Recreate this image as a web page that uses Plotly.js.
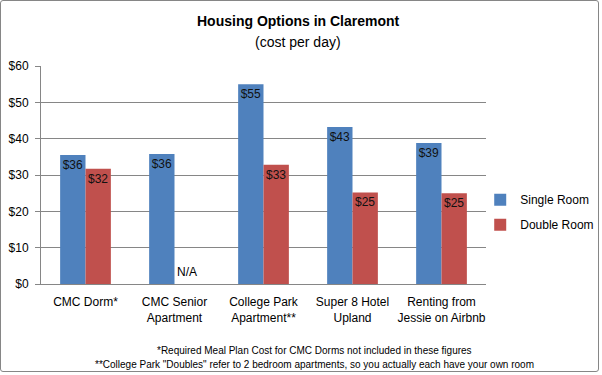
<!DOCTYPE html>
<html><head><meta charset="utf-8">
<script src="https://cdn.plot.ly/plotly-3.0.1.min.js"></script>
<style>
html,body{margin:0;padding:0;background:#fff;}
#wrap{position:absolute;left:0;top:0;width:597px;height:370px;border:1px solid #868686;border-radius:3px;overflow:hidden;}
#chart{width:602px;height:375px;margin:-1px 0 0 -1px;}
</style></head>
<body><div id="wrap"><div id="chart"></div></div>
<script>
const categories = ["CMC Dorm*", "CMC Senior<br>Apartment", "College Park<br>Apartment**", "Super 8 Hotel<br>Upland", "Renting from<br>Jessie on Airbnb"];
const singleRoom = [35.5, 35.8, 55.0, 43.2, 38.8];
const doubleRoom = [31.7, null, 32.8, 25.2, 25.0];
const missingLabel = "N/A";
const footnotes = ["*Required Meal Plan Cost for CMC Dorms not included in these figures",
  "**College Park \"Doubles\" refer to 2 bedroom apartments, so you actually each have your own room"];

const F = "Arial, Liberation Sans, sans-serif";
const common = {type:'bar', x:categories, texttemplate:'$%{y:.0f}', textposition:'inside', textangle:0,
  insidetextanchor:'end', constraintext:'none', textfont:{family:F,size:12,color:'#111'}, hoverinfo:'none'};
const data = [
  Object.assign({}, common, {name:'Single Room', legendgroup:'a', y:singleRoom, marker:{color:'#4F81BD'}}),
  Object.assign({}, common, {name:'Double Room', legendgroup:'b', y:doubleRoom, marker:{color:'#C0504D'}})
];
const missingIdx = doubleRoom.findIndex(v => v === null);
const layout = {
  width:602, height:375, margin:{l:41,r:116,t:66,b:91,autoexpand:false},
  paper_bgcolor:'rgba(0,0,0,0)', plot_bgcolor:'#fff',
  font:{family:F,size:12,color:'#000'},
  barmode:'group', bargap:0.43, bargroupgap:0,
  showlegend:true,
  legend:{x:0.987,y:0.329,xanchor:'left',yanchor:'middle',font:{family:F,size:12,color:'#000'},
    traceorder:'grouped', tracegroupgap:6},
  xaxis:{type:'category', showgrid:false, showline:true, linecolor:'#868686', linewidth:1,
    ticks:'', ticklabelstandoff:7, tickfont:{family:F,size:12,color:'#000'}, fixedrange:true},
  yaxis:{range:[0,60], dtick:10, tickprefix:'$', showgrid:true, gridcolor:'#868686', gridwidth:1,
    showline:true, linecolor:'#868686', ticks:'outside', ticklen:5, tickcolor:'#868686', ticklabelstandoff:4,
    tickfont:{family:F,size:12,color:'#000'}, zeroline:false, fixedrange:true},
  annotations:[
    {text:'<b>Housing Options in Claremont</b>', xref:'paper', yref:'paper', x:0.578, y:1.206,
      xanchor:'center', yanchor:'middle', showarrow:false, font:{family:F,size:14,color:'#000'}},
    {text:'(cost per day)', xref:'paper', yref:'paper', x:0.578, y:1.112,
      xanchor:'center', yanchor:'middle', showarrow:false, font:{family:F,size:14,color:'#000'}},
    {text:missingLabel, xref:'x', yref:'y', x:missingIdx, y:0, xshift:12.5, yshift:3,
      xanchor:'center', yanchor:'bottom', showarrow:false, font:{family:F,size:12,color:'#000'}},
    {text:footnotes[0], xref:'paper', yref:'paper', x:0.615, y:-0.306, xanchor:'center', yanchor:'middle',
      showarrow:false, font:{family:F,size:10,color:'#000'}},
    {text:footnotes[1], xref:'paper', yref:'paper', x:0.615, y:-0.370, xanchor:'center', yanchor:'middle',
      showarrow:false, font:{family:F,size:10,color:'#000'}}
  ]
};
Plotly.newPlot('chart', data, layout, {staticPlot:true, displayModeBar:false});
</script></body></html>
